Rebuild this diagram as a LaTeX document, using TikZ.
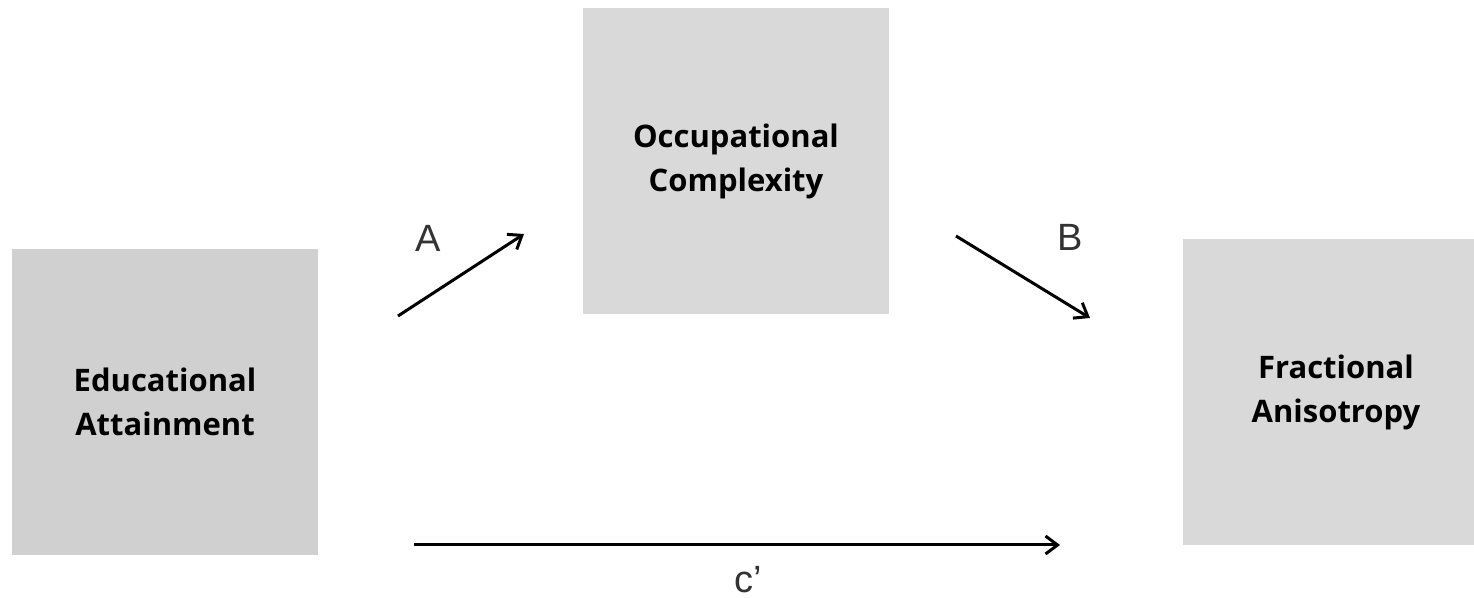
\documentclass[tikz,border=0pt]{standalone}
\usepackage{fontspec}
\setmainfont{Liberation Sans}
\newfontfamily\boxfont{Open Sans}
\usepackage{tikz}
\usetikzlibrary{arrows.meta,positioning}
\usepackage{xcolor}
\definecolor{cEdu}{RGB}{208,208,208}
\definecolor{cBox}{RGB}{217,217,217}
\definecolor{cLab}{RGB}{51,51,51}
\tikzset{
  basebox/.style={rectangle,inner sep=0pt,align=center,text=black,
                  minimum width=153pt,minimum height=153pt,
                  font=\boxfont\bfseries\fontsize{15.5}{22}\selectfont},
  edunode/.style={basebox,fill=cEdu},
  graynode/.style={basebox,fill=cBox},
  pathlab/.style={text=cLab,inner sep=0pt,font=\fontsize{19}{22}\selectfont},
  arr/.style={-{Straight Barb[length=6pt,width=9pt,line width=1.5pt]},line width=1.5pt,color=black}
}
\begin{document}
\begin{tikzpicture}[x=0.5pt,y=-0.5pt]
  \clip (0,0) rectangle (1474,598);
  \fill[white] (0,0) rectangle (1474,598);

  \node[edunode] (edu) at (165,402) {Educational\\Attainment};
  \node[graynode] (occ) at (736,161) {Occupational\\Complexity};
  \node[graynode] (fa) at (1336,392) {Fractional\\Anisotropy};

  % arrow ends
  \coordinate (aS) at (398,316);
  \coordinate (aE) at (524,234);
  \coordinate (bS) at (956,236);
  \coordinate (bE) at (1090,318);
  \coordinate (cS) at (414,545);
  \coordinate (cE) at (1060,545);

  \draw[arr] (aS) -- (aE);
  \draw[arr] (bS) -- (bE);
  \draw[arr] (cS) -- (cE);

  \node[pathlab] (labA) at (428,238) {A};
  \node[pathlab] (labB) at (1070,237) {B};
  \node[pathlab] (labC) at (748,580) {c’};
\end{tikzpicture}
\end{document}
